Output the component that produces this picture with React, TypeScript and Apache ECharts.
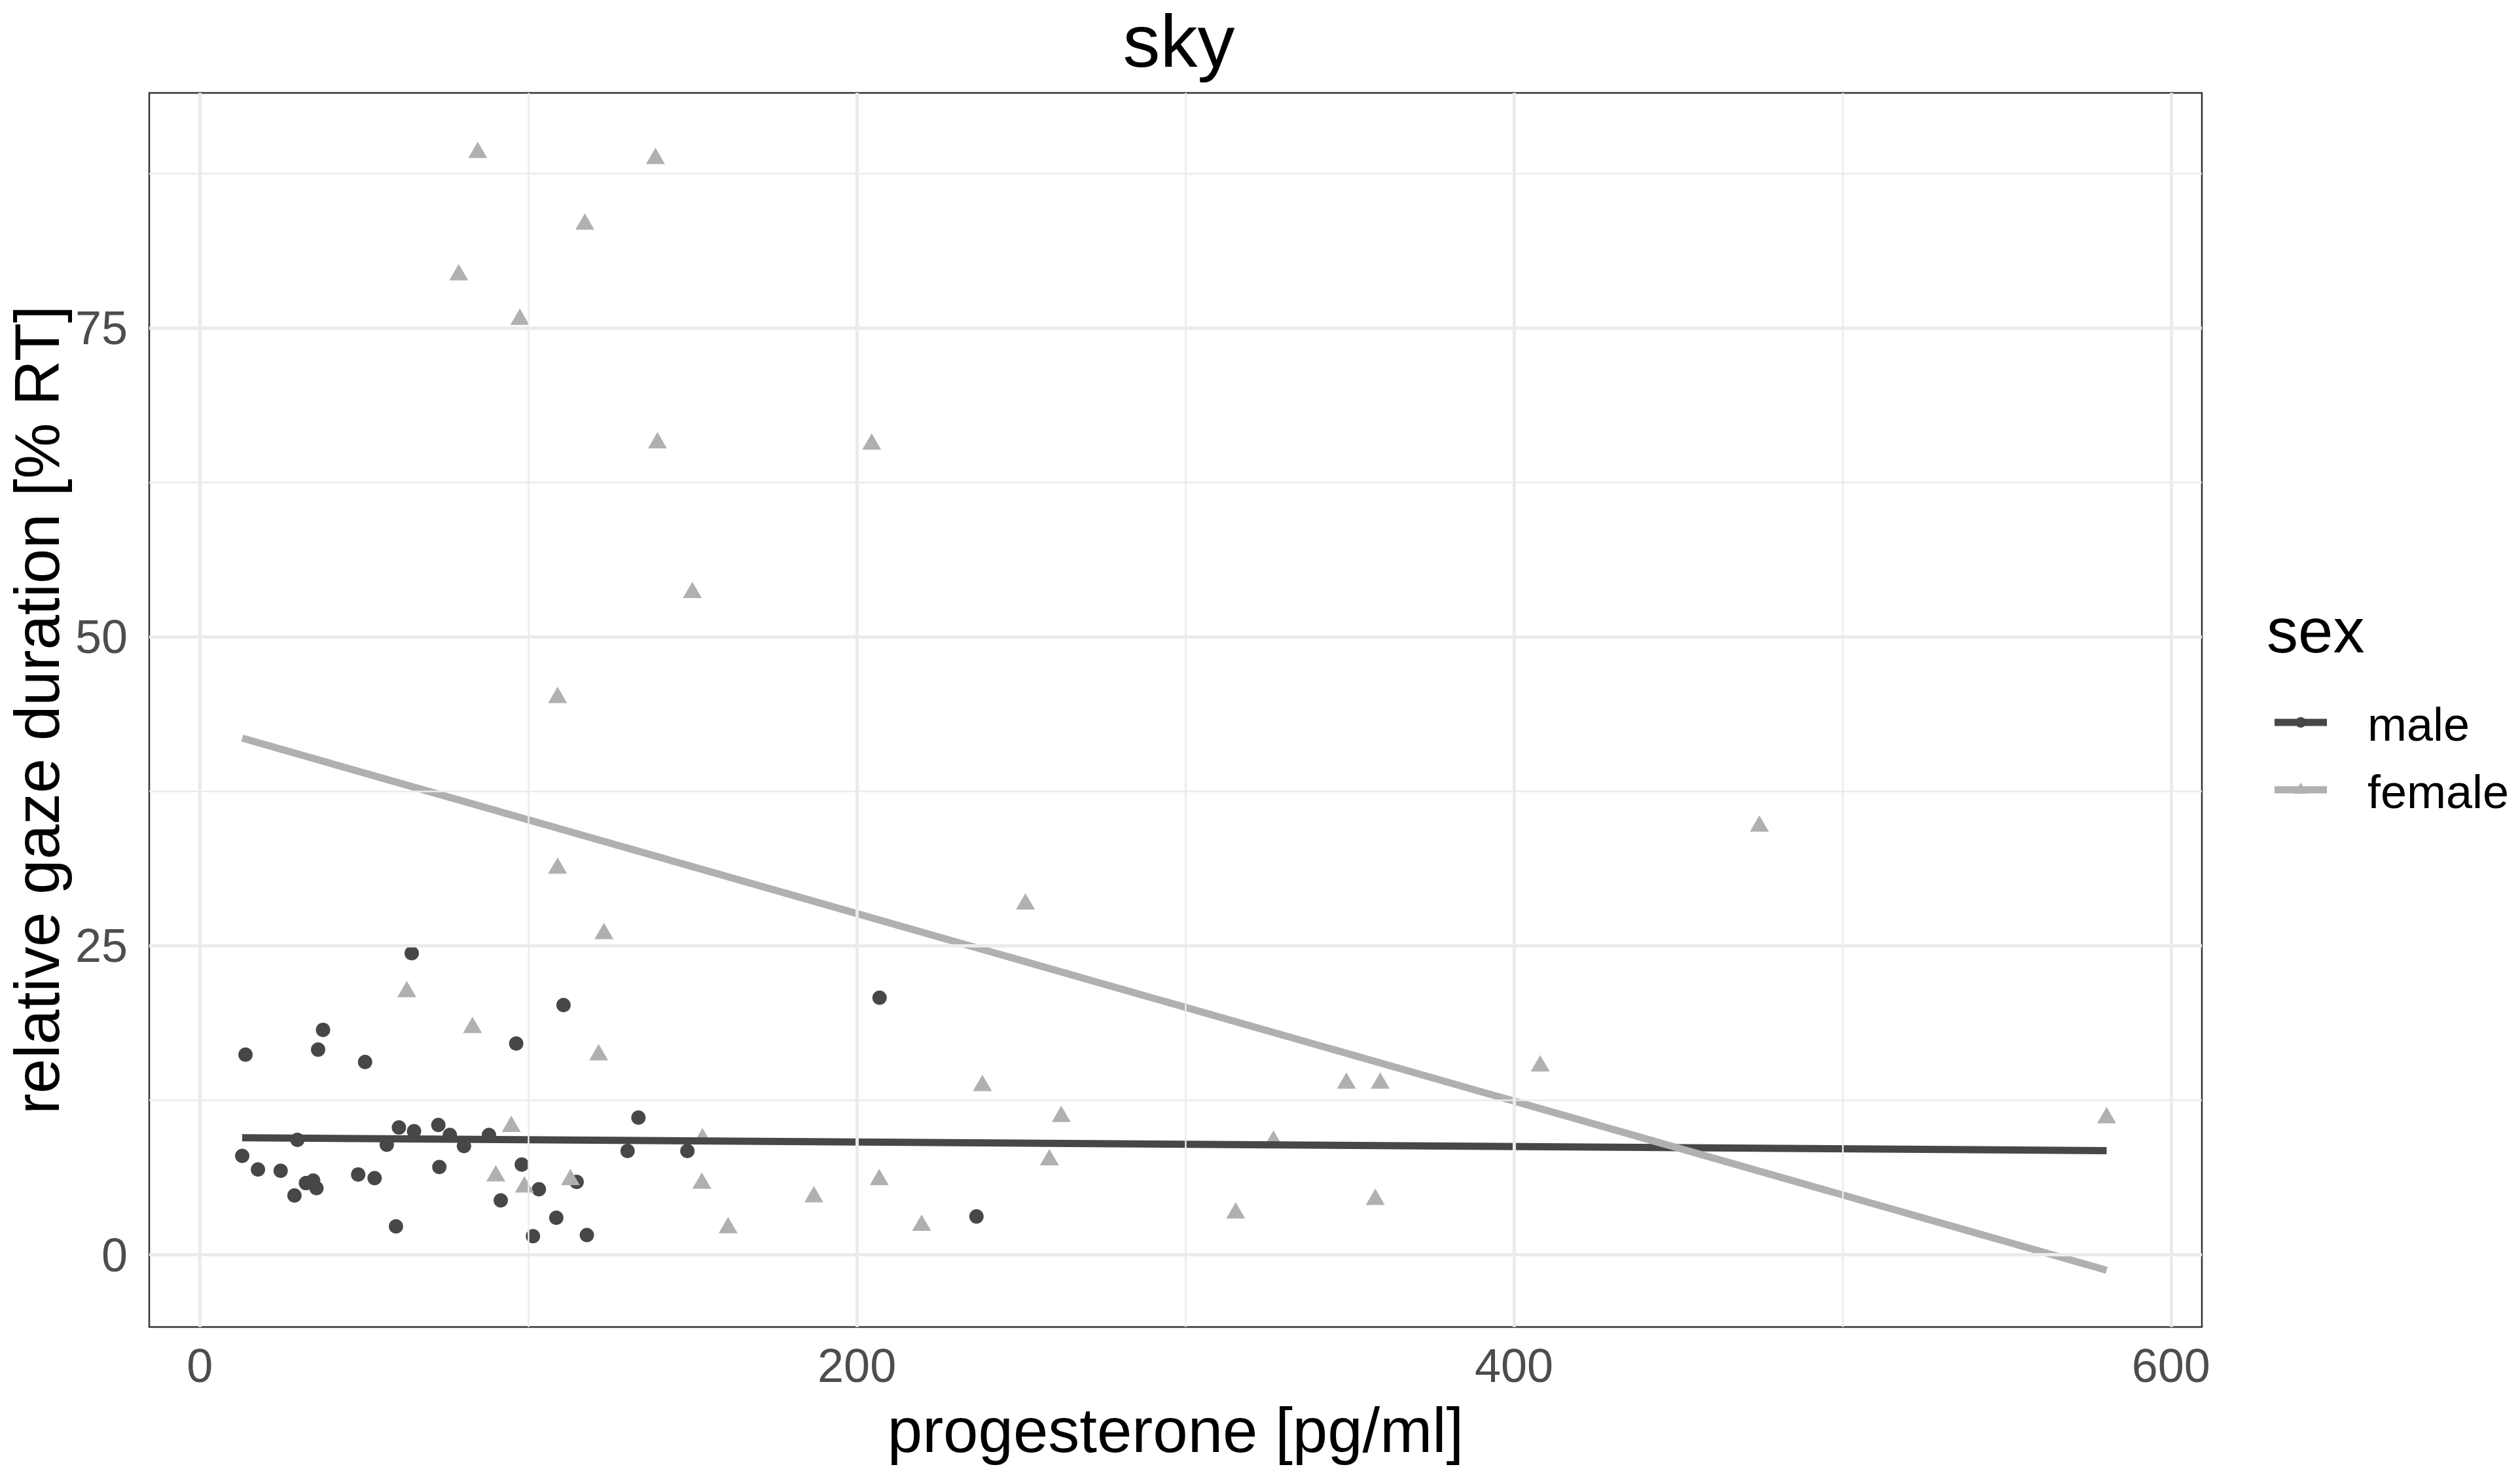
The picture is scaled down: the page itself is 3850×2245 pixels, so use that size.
import React, { useEffect, useRef } from "react";
import * as echarts from "echarts";

const FONT = "Liberation Sans, Arial, Helvetica, sans-serif";

// male points [progesterone, gaze %]
const malePoints: number[][] = [
  [13.9, 16.2], [12.9, 8.0], [17.7, 6.9], [24.6, 6.8], [29.7, 9.3], [28.8, 4.8],
  [32.3, 5.8], [34.5, 6.0], [35.5, 5.4], [36.0, 16.6], [37.5, 18.2], [50.3, 15.6],
  [48.2, 6.5], [53.2, 6.2], [56.9, 8.9], [59.7, 2.3], [60.6, 10.3], [65.2, 10.0],
  [64.5, 24.4], [72.6, 10.5], [72.9, 7.1], [76.1, 9.7], [80.4, 8.8], [88.0, 9.7],
  [91.6, 4.4], [96.3, 17.1], [98.0, 7.3], [101.4, 1.5], [103.2, 5.3], [108.5, 3.0],
  [110.7, 20.2], [114.7, 5.9], [117.8, 1.6], [130.2, 8.4], [133.5, 11.1], [148.4, 8.4],
  [206.9, 20.8], [236.4, 3.1],
];

// female points [progesterone, gaze %]
const femalePoints: number[][] = [
  [84.6, 89.4], [138.7, 88.9], [117.2, 83.6], [78.8, 79.5], [97.4, 75.9], [139.3, 65.9],
  [204.5, 65.8], [149.9, 53.8], [108.9, 45.3], [108.9, 31.5], [123.0, 26.2], [63.0, 21.5],
  [83.0, 18.6], [121.4, 16.4], [94.8, 10.6], [90.1, 6.6], [98.8, 5.7], [112.8, 6.3],
  [153.0, 9.6], [152.8, 6.0], [160.8, 2.4], [186.9, 4.9], [206.8, 6.3], [219.7, 2.6],
  [238.2, 13.9], [251.3, 28.6], [258.6, 7.9], [262.2, 11.4], [315.3, 3.6], [326.8, 9.4],
  [349.0, 14.1], [357.8, 4.7], [359.3, 14.1], [408.0, 15.5], [474.7, 34.9], [580.4, 11.3],
];

// fitted regression lines (full range)
const fitX = [12.9, 580.4];
const maleFit = [9.47, 8.43];
const femaleFit = [41.8, -1.25];

const xMajor = [0, 200, 400, 600];
const xMinor = [100, 300, 500];
const yMajor = [0, 25, 50, 75];
const yMinor = [12.5, 37.5, 62.5, 87.5];

const X_MIN = -15.4;
const X_MAX = 609.4;
const Y_MIN = -5.84;
const Y_MAX = 94.0;

const MALE_COLOR = "#474747";
const FEMALE_COLOR = "#B0B0B0";
const GRID_COLOR = "#EBEBEB";

export default function App() {
  const ref = useRef<HTMLDivElement>(null);

  useEffect(() => {
    if (!ref.current) return;
    const chart = echarts.init(ref.current, undefined, { renderer: "svg" });

    const gridLines = [
      ...xMajor.map((v) => ({ xAxis: v, lineStyle: { color: GRID_COLOR, width: 5, type: "solid" } })),
      ...xMinor.map((v) => ({ xAxis: v, lineStyle: { color: GRID_COLOR, width: 2.5, type: "solid" } })),
      ...yMajor.map((v) => ({ yAxis: v, lineStyle: { color: GRID_COLOR, width: 5, type: "solid" } })),
      ...yMinor.map((v) => ({ yAxis: v, lineStyle: { color: GRID_COLOR, width: 2.5, type: "solid" } })),
    ];

    const option: any = {
      animation: false,
      backgroundColor: "#ffffff",
      textStyle: { fontFamily: FONT },
      title: {
        text: "sky",
        left: 1796,
        top: 0,
        textAlign: "center",
        textStyle: { fontSize: 114, fontWeight: "normal", color: "#000000", fontFamily: FONT },
      },
      grid: {
        left: 228,
        right: 486,
        top: 142,
        bottom: 217,
        containLabel: false,
        outerBoundsMode: "none",
        show: true,
        borderColor: "#333333",
        borderWidth: 2.5,
        backgroundColor: "transparent",
      },
      xAxis: {
        type: "value",
        min: X_MIN,
        max: X_MAX,
        name: "progesterone [pg/ml]",
        nameLocation: "middle",
        nameGap: 109,
        nameTextStyle: { fontSize: 96, color: "#000000", fontFamily: FONT },
        axisLine: { show: false },
        splitLine: { show: false },
        axisTick: { show: true, customValues: xMajor, length: 15, lineStyle: { color: "#333333", width: 2.5 } },
        axisLabel: { customValues: xMajor, fontSize: 72, color: "#4D4D4D", margin: 23, fontFamily: FONT },
      },
      yAxis: {
        type: "value",
        min: Y_MIN,
        max: Y_MAX,
        name: "relative gaze duration [% RT]",
        nameLocation: "middle",
        nameGap: 132,
        nameRotate: 90,
        nameTextStyle: { fontSize: 96, lineHeight: 80, color: "#000000", fontFamily: FONT },
        axisLine: { show: false },
        splitLine: { show: false },
        axisTick: { show: true, customValues: yMajor, length: 15, lineStyle: { color: "#333333", width: 2.5 } },
        axisLabel: { customValues: yMajor, fontSize: 72, color: "#4D4D4D", margin: 33, fontFamily: FONT },
      },
      series: [
        {
          type: "line",
          name: "grid",
          data: [],
          z: 0,
          silent: true,
          markLine: {
            silent: true,
            symbol: ["none", "none"],
            label: { show: false },
            animation: false,
            data: gridLines,
          },
        },
        {
          type: "scatter",
          name: "male",
          data: malePoints,
          symbol: "circle",
          symbolSize: 22,
          itemStyle: { color: MALE_COLOR, opacity: 1 },
          z: 2,
          silent: true,
        },
        {
          type: "scatter",
          name: "female",
          data: femalePoints,
          symbol: "triangle",
          symbolSize: [29, 25],
          itemStyle: { color: FEMALE_COLOR, opacity: 1 },
          z: 2,
          silent: true,
        },
        {
          type: "line",
          name: "male fit",
          data: fitX.map((x, i) => [x, maleFit[i]]),
          showSymbol: false,
          lineStyle: { color: MALE_COLOR, width: 11 },
          z: 3,
          silent: true,
        },
        {
          type: "line",
          name: "female fit",
          data: fitX.map((x, i) => [x, femaleFit[i]]),
          showSymbol: false,
          lineStyle: { color: FEMALE_COLOR, width: 11 },
          z: 4,
          silent: true,
        },
      ],
      graphic: [
        {
          type: "text",
          x: 3463,
          y: 963,
          style: { text: "sex", fontSize: 96, fill: "#000000", fontFamily: FONT, textAlign: "left", textVerticalAlign: "middle" },
        },
        {
          type: "line",
          shape: { x1: 3475, y1: 1104, x2: 3555, y2: 1104 },
          style: { stroke: MALE_COLOR, lineWidth: 11 },
        },
        {
          type: "circle",
          shape: { cx: 3515, cy: 1104, r: 8 },
          style: { fill: MALE_COLOR },
        },
        {
          type: "text",
          x: 3617,
          y: 1107,
          style: { text: "male", fontSize: 72, fill: "#000000", fontFamily: FONT, textAlign: "left", textVerticalAlign: "middle" },
        },
        {
          type: "line",
          shape: { x1: 3475, y1: 1207, x2: 3555, y2: 1207 },
          style: { stroke: FEMALE_COLOR, lineWidth: 11 },
        },
        {
          type: "polygon",
          shape: { points: [[3515, 1196], [3505, 1213], [3525, 1213]] },
          style: { fill: FEMALE_COLOR },
        },
        {
          type: "text",
          x: 3617,
          y: 1210,
          style: { text: "female", fontSize: 72, fill: "#000000", fontFamily: FONT, textAlign: "left", textVerticalAlign: "middle" },
        },
      ],
    };

    chart.setOption(option);
    return () => {
      chart.dispose();
    };
  }, []);

  return (
    <div
      ref={ref}
      style={{ position: "absolute", left: 0, top: 0, width: 3850, height: 2245, background: "#ffffff" }}
    />
  );
}
